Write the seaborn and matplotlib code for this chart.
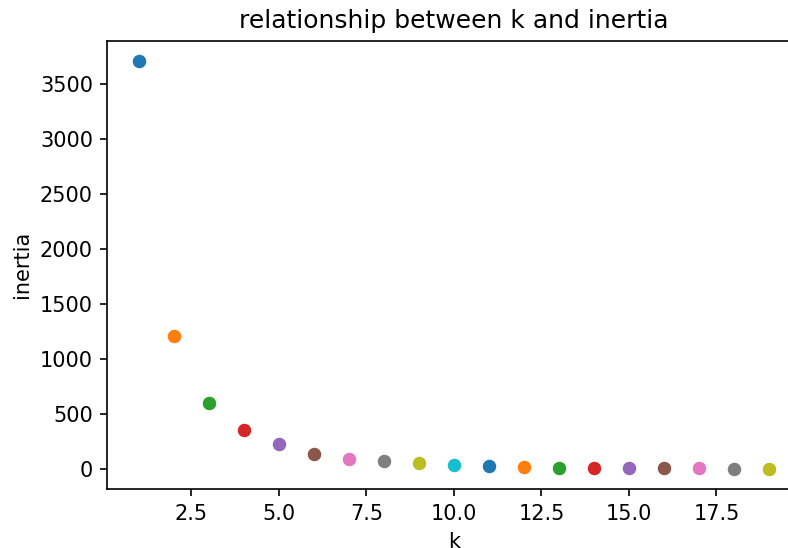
import numpy as np
import seaborn as sns
import matplotlib
matplotlib.use('Agg')
import matplotlib.pyplot as plt

# k values and inertia
k_values = list(range(1, 20))
inertia = [3710, 1205, 600, 355, 227, 130, 91, 73, 57, 36,
           22, 15, 10, 7, 5, 4, 3, 2, 1.5]

palette = sns.color_palette('tab10')

plt.rcParams['font.size'] = 10
fig = plt.figure(figsize=(788/150, 548/150), dpi=150)
# right side of the axes is cut off in the reference
ax = fig.add_axes([0.1364, 0.1077, 0.8794, 0.818])

# one call per point, colours cycle through tab10
for i, (k, v) in enumerate(zip(k_values, inertia)):
    sns.scatterplot(x=[k], y=[v], color=palette[i % 10], s=50, ax=ax)

ax.set_xlim(0.1, 19.9)
ax.set_xlabel('k')
ax.set_ylabel('inertia')
ax.set_title('relationship between k and inertia')

fig.savefig('out.png', dpi=150)
